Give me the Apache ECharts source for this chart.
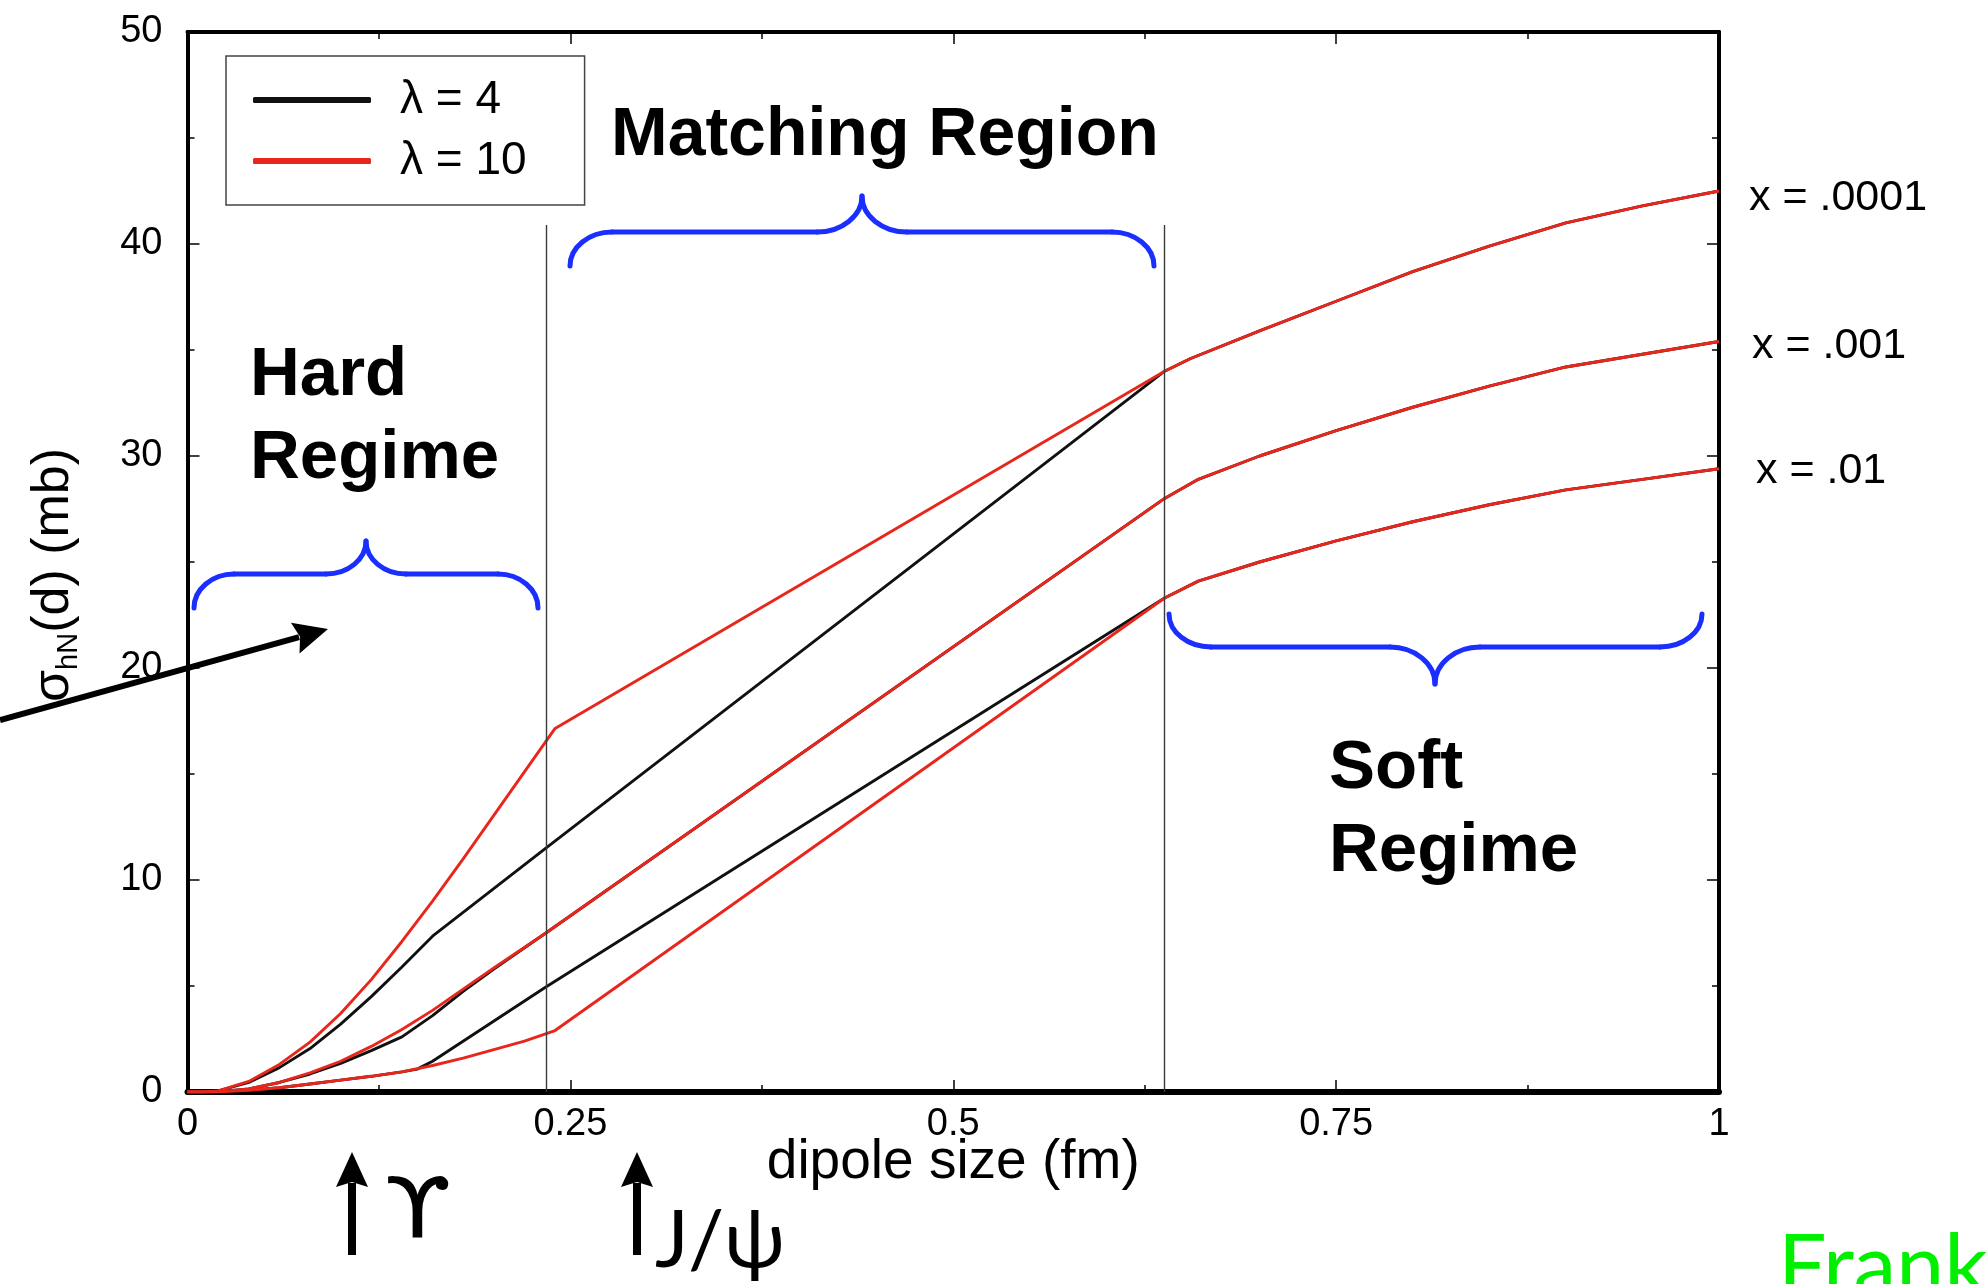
<!DOCTYPE html>
<html>
<head>
<meta charset="utf-8">
<title>Dipole cross section vs dipole size</title>
<script src="https://cdn.jsdelivr.net/npm/echarts@6/dist/echarts.min.js"></script>
<style>
  html, body { margin: 0; padding: 0; background: #fff; }
  #chart { width: 1986px; height: 1284px; }
</style>
</head>
<body>
<div id="chart"></div>
<script>
// ---- axis ranges and tick spacing ----
const xRange = [0, 1];
const xStep = 0.25;
const yRange = [0, 50];
const yStep = 10;

// ---- legend / curve labels ----
const lambdaNames = ['λ = 4', 'λ = 10'];
const xLabels = ['x = .0001', 'x = .001', 'x = .01'];

// ---- boundaries of the matching region (fm) and their height (mb) ----
const regionBounds = [0.234, 0.638];
const boundTop = 40.9;

// ---- σ(d) in mb, [dipole size fm, σ] ----
// shared soft-regime tails (λ = 4 and λ = 10 coincide there)
const softTop = [[0.655, 34.6], [0.70, 35.9], [0.75, 37.3], [0.80, 38.7], [0.85, 39.9], [0.90, 41.0], [0.95, 41.8], [1.00, 42.5]];
const softMid = [[0.66, 28.9], [0.70, 30.0], [0.75, 31.2], [0.80, 32.3], [0.85, 33.3], [0.90, 34.2], [0.95, 34.8], [1.00, 35.4]];
const softLow = [[0.66, 24.1], [0.70, 25.0], [0.75, 26.0], [0.80, 26.9], [0.85, 27.7], [0.90, 28.4], [0.95, 28.9], [1.00, 29.4]];

// λ = 4
const l4x0001 = [[0, 0], [0.01, 0], [0.02, 0.05], [0.04, 0.45], [0.06, 1.15], [0.08, 2.05], [0.10, 3.2], [0.12, 4.5], [0.14, 5.9], [0.16, 7.35], [0.234, 11.5], [0.638, 34.0]];
const l4x001 = [[0, 0], [0.01, 0], [0.02, 0.02], [0.04, 0.15], [0.06, 0.45], [0.08, 0.85], [0.10, 1.35], [0.12, 1.95], [0.14, 2.6], [0.16, 3.6], [0.18, 4.75], [0.20, 5.8], [0.234, 7.5], [0.638, 28.0]];
const l4x01 = [[0, 0], [0.01, 0], [0.02, 0.01], [0.04, 0.08], [0.06, 0.2], [0.08, 0.38], [0.10, 0.56], [0.12, 0.74], [0.14, 0.95], [0.15, 1.08], [0.16, 1.45], [0.234, 4.95], [0.638, 23.3]];

// λ = 10
const l10x0001 = [[0, 0], [0.01, 0], [0.02, 0.05], [0.04, 0.5], [0.06, 1.3], [0.08, 2.35], [0.10, 3.7], [0.12, 5.3], [0.14, 7.1], [0.16, 9.0], [0.18, 11.0], [0.20, 13.05], [0.22, 15.1], [0.24, 17.15], [0.638, 34.0]];
const l10x001 = [[0, 0], [0.01, 0], [0.02, 0.02], [0.04, 0.15], [0.06, 0.45], [0.08, 0.9], [0.10, 1.45], [0.12, 2.15], [0.14, 2.95], [0.16, 3.85], [0.18, 4.85], [0.20, 5.85], [0.234, 7.5], [0.638, 28.0]];
const l10x01 = [[0, 0], [0.01, 0], [0.02, 0.01], [0.04, 0.08], [0.06, 0.2], [0.08, 0.38], [0.10, 0.56], [0.12, 0.74], [0.14, 0.95], [0.16, 1.25], [0.18, 1.6], [0.20, 2.0], [0.22, 2.4], [0.24, 2.9], [0.638, 23.3]];

const FONT = '"Liberation Sans", Arial, Helvetica, sans-serif';
const HAND = 'Lato, "Noto Sans", "DejaVu Sans", sans-serif';
const BLACK = '#111111';
const RED = '#e8261c';
const BLUE = '#1a2eff';

const chart = echarts.init(document.getElementById('chart'), null, { renderer: 'canvas' });

function curve(name, color, data, z) {
  return {
    type: 'line', name: name, data: data, z: z,
    showSymbol: false, symbol: 'none', smooth: false, silent: true,
    lineStyle: { color: color, width: 2.9 },
    itemStyle: { color: color }
  };
}

const series = [
  curve(lambdaNames[0], BLACK, l4x0001.concat(softTop), 2),
  curve(lambdaNames[0], BLACK, l4x001.concat(softMid), 2),
  curve(lambdaNames[0], BLACK, l4x01.concat(softLow), 2),
  curve(lambdaNames[1], RED, l10x0001.concat(softTop), 3),
  curve(lambdaNames[1], RED, l10x001.concat(softMid), 3),
  curve(lambdaNames[1], RED, l10x01.concat(softLow), 3)
];
series[0].markLine = {
  silent: true, symbol: 'none', animation: false,
  label: { show: false },
  lineStyle: { color: '#3a3a3a', width: 1.4, type: 'solid' },
  data: regionBounds.map(d => [{ coord: [d, 0] }, { coord: [d, boundTop] }])
};

// ---- decorations: braces, arrows, region captions ----
const braceStyle = { fill: 'none', stroke: BLUE, lineWidth: 5, lineCap: 'round' };

// a curly brace built from cubic segments and straight runs
function brace(x1, x2, yEnd, yLine, tipX, tipY, rx, mx) {
  const k = yLine - yEnd;
  const t = tipY - yLine;
  const bz = (a, b, c, d) => ({ type: 'bezierCurve', silent: true, z: 20,
    shape: { x1: a[0], y1: a[1], cpx1: b[0], cpy1: b[1], cpx2: c[0], cpy2: c[1], x2: d[0], y2: d[1] }, style: braceStyle });
  const ln = (a, b) => ({ type: 'line', silent: true, z: 20,
    shape: { x1: a[0], y1: a[1], x2: b[0], y2: b[1] }, style: braceStyle });
  return [
    bz([x1, yEnd], [x1, yEnd + k * 0.55], [x1 + rx * 0.45, yLine], [x1 + rx, yLine]),
    ln([x1 + rx, yLine], [tipX - mx, yLine]),
    bz([tipX - mx, yLine], [tipX - mx * 0.45, yLine], [tipX, yLine + t * 0.45], [tipX, tipY]),
    bz([tipX, tipY], [tipX, yLine + t * 0.45], [tipX + mx * 0.45, yLine], [tipX + mx, yLine]),
    ln([tipX + mx, yLine], [x2 - rx, yLine]),
    bz([x2 - rx, yLine], [x2 - rx * 0.45, yLine], [x2, yEnd + k * 0.55], [x2, yEnd])
  ];
}

function arrow(x1, y1, x2, y2, width, headLen, headHalf) {
  const dx = x2 - x1, dy = y2 - y1, L = Math.hypot(dx, dy);
  const ux = dx / L, uy = dy / L, nx = -uy, ny = ux;
  const bx = x2 - ux * headLen, by = y2 - uy * headLen;
  return [
    { type: 'line', silent: true, z: 20, shape: { x1: x1, y1: y1, x2: bx + ux * 4, y2: by + uy * 4 },
      style: { stroke: '#000', lineWidth: width } },
    { type: 'polygon', silent: true, z: 20,
      shape: { points: [[x2, y2], [bx + nx * headHalf, by + ny * headHalf], [bx + ux * 5, by + uy * 5], [bx - nx * headHalf, by - ny * headHalf]] },
      style: { fill: '#000' } }
  ];
}

function label(text, x, y, size, weight, family, color) {
  return { type: 'text', silent: true, x: x, y: y, z: 20,
    style: { text: text, fontSize: size, fontWeight: weight || 'normal', fontFamily: family || FONT,
      fill: color || '#000', align: 'left', verticalAlign: 'middle' } };
}

const upsilon = label('ϒ', 384, 1215, 84, 'normal', '"DejaVu Sans", "Noto Sans", sans-serif');
upsilon.scaleX = 1.15;

const graphics = []
  .concat(brace(194, 538, 608, 574, 366, 541, 40, 40))
  .concat(brace(570, 1154, 266, 232, 862, 196, 42, 45))
  .concat(brace(1169, 1702, 614, 647, 1435, 684, 42, 45))
  .concat([
    label('Matching Region', 611, 136, 68, 'bold'),
    label('Hard', 250, 376, 69, 'bold'),
    label('Regime', 250, 459, 69, 'bold'),
    label('Soft', 1329, 769, 69, 'bold'),
    label('Regime', 1329, 852, 69, 'bold'),
    label(xLabels[0], 1749, 198, 43),
    label(xLabels[1], 1752, 346, 43),
    label(xLabels[2], 1756, 471, 43),
    upsilon,
    label('J/ψ', 655, 1241, 80, 'normal', HAND),
    label('Frankfurt', 1778, 1267, 86, 'normal', HAND, '#00f000')
  ])
  .concat(arrow(0, 720, 328, 629, 6, 34, 16))
  .concat(arrow(352, 1255, 352, 1152, 8, 35, 16))
  .concat(arrow(637, 1255, 637, 1152, 8, 35, 16));

const axisCommon = {
  type: 'value',
  splitLine: { show: false },
  axisLine: { show: true, onZero: false, lineStyle: { color: '#000', width: 4 } },
  axisTick: { show: true, inside: true, length: 12, lineStyle: { color: '#000', width: 1.5 } },
  minorTick: { show: true, splitNumber: 2, length: 7, lineStyle: { color: '#000', width: 1.5 } }
};

const option = {
  animation: false,
  backgroundColor: '#fff',
  grid: { left: 187.5, right: 267, top: 32, bottom: 192, containLabel: false, outerBoundsMode: 'none' },
  legend: {
    data: lambdaNames,
    orient: 'vertical', left: 226, top: 56,
    padding: [21, 58, 21, 27],
    itemWidth: 118, itemHeight: 6, itemGap: 15,
    icon: 'roundRect',
    backgroundColor: '#fff', borderColor: '#444', borderWidth: 1.5, borderRadius: 0,
    selectedMode: false,
    textStyle: { fontSize: 46, fontFamily: FONT, color: '#000', lineHeight: 46, padding: [0, 0, 0, 24] }
  },
  xAxis: [
    Object.assign({}, axisCommon, {
      min: xRange[0], max: xRange[1], interval: xStep, position: 'bottom',
      axisLine: { show: true, onZero: false, lineStyle: { color: '#000', width: 6 } },
      axisLabel: { show: true, margin: 14, fontSize: 38, fontFamily: FONT, color: '#000' },
      name: 'dipole size (fm)', nameLocation: 'middle', nameGap: 43, nameMoveOverlap: false,
      nameTextStyle: { fontSize: 55, fontFamily: FONT, color: '#000' }
    }),
    Object.assign({}, axisCommon, {
      min: xRange[0], max: xRange[1], interval: xStep, position: 'top',
      axisLabel: { show: false }
    })
  ],
  yAxis: [
    Object.assign({}, axisCommon, {
      min: yRange[0], max: yRange[1], interval: yStep, position: 'left',
      axisLabel: { show: true, margin: 25, fontSize: 38, fontFamily: FONT, color: '#000' },
      name: '{a|σ}{b|hN}{a|(d) (mb)}', nameLocation: 'middle', nameGap: 104, nameMoveOverlap: false,
      nameTextStyle: {
        fontSize: 52, fontFamily: FONT, color: '#000', padding: [0, 26, 0, 0],
        rich: {
          a: { fontSize: 52, fontFamily: FONT, color: '#000', lineHeight: 60, verticalAlign: 'middle' },
          b: { fontSize: 29, fontFamily: FONT, color: '#000', lineHeight: 30, verticalAlign: 'bottom' }
        }
      }
    }),
    Object.assign({}, axisCommon, {
      min: yRange[0], max: yRange[1], interval: yStep, position: 'right',
      axisLabel: { show: false }
    })
  ],
  series: series,
  graphic: graphics
};

chart.setOption(option);
</script>
</body>
</html>
